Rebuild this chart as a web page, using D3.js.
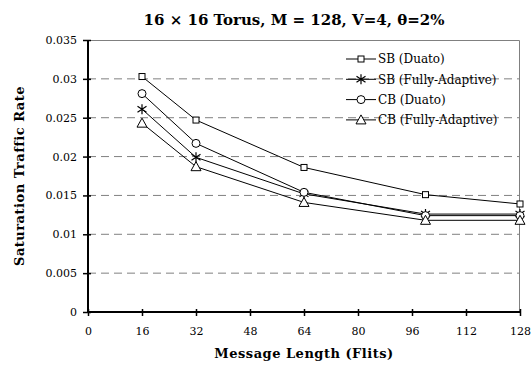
<!DOCTYPE html>
<html>
<head>
<meta charset="utf-8">
<script src="https://cdn.jsdelivr.net/npm/d3@7"></script>
<style>
  body { margin: 0; background: #fff; }
  svg text { font-family: "DejaVu Serif", serif; fill: #000; }
  .grid line { stroke: #808080; stroke-dasharray: 8,5; }
</style>
</head>
<body>
<div id="chart"></div>
<script>
// data
const lengths = [16, 32, 64, 100, 128];
const sbDuato = [0.0303, 0.0247, 0.0186, 0.0151, 0.0139];
const sbFully = [0.0261, 0.0199, 0.0152, 0.0126, 0.0126];
const cbDuato = [0.0281, 0.0217, 0.0154, 0.0124, 0.0124];
const cbFully = [0.0243, 0.0187, 0.0141, 0.0118, 0.0118];
const seriesNames = ['SB (Duato)', 'SB (Fully-Adaptive)', 'CB (Duato)', 'CB (Fully-Adaptive)'];
const xTicks = [0, 16, 32, 48, 64, 80, 96, 112, 128];
const yTicks = [0, 0.005, 0.01, 0.015, 0.02, 0.025, 0.03, 0.035];

const series = [
  {name: seriesNames[0], values: sbDuato, marker: 'square'},
  {name: seriesNames[1], values: sbFully, marker: 'star'},
  {name: seriesNames[2], values: cbDuato, marker: 'circle'},
  {name: seriesNames[3], values: cbFully, marker: 'triangle'}
];

const width = 532, height = 365;
const margin = {top: 40, right: 12, bottom: 53, left: 88};
const w = width - margin.left - margin.right;
const h = height - margin.top - margin.bottom;

const svg = d3.select('#chart').append('svg')
    .attr('width', width)
    .attr('height', height);

const chart = svg.append('g')
    .attr('transform', `translate(${margin.left},${margin.top})`);

const x = d3.scaleLinear().domain([0, 128]).range([0, w]);
const y = d3.scaleLinear().domain([0, 0.035]).range([h, 0]);

// dashed grid
chart.append('g')
    .attr('class', 'grid')
  .selectAll('line')
  .data(yTicks.filter(d => d > 0 && d < 0.035))
  .join('line')
    .attr('x1', 0)
    .attr('x2', w)
    .attr('y1', d => y(d))
    .attr('y2', d => y(d));

// top and right frame
chart.append('path')
    .attr('d', `M0,0.5H${w - 0.5}V${h}`)
    .attr('fill', 'none')
    .attr('stroke', '#808080');

// axes
const xAxis = d3.axisBottom(x).tickValues(xTicks).tickSize(4).tickPadding(11).tickFormat(d3.format('d'));
const yAxis = d3.axisLeft(y).tickValues(yTicks).tickSize(5).tickPadding(6).tickFormat(d => d === 0 ? '0' : d3.format('')(d));

const xAxisG = chart.append('g')
    .attr('transform', `translate(0,${h})`)
    .call(xAxis);
const yAxisG = chart.append('g').call(yAxis);

[xAxisG, yAxisG].forEach(g => {
  g.select('.domain').remove();
  g.selectAll('.tick line').attr('stroke-width', 1.5);
  g.selectAll('text').attr('font-size', 11).attr('font-family', '"DejaVu Serif", serif');
});
chart.append('path')
    .attr('d', `M0,0V${h}H${w}`)
    .attr('fill', 'none')
    .attr('stroke', '#000')
    .attr('stroke-width', 2);
// ticks cross the axis a little
xAxisG.selectAll('.tick line').attr('y1', -3);
yAxisG.selectAll('.tick line').attr('x1', 3);

// lines
const line = d3.line()
    .x((d, i) => x(lengths[i]))
    .y(d => y(d));

chart.selectAll('.series')
  .data(series)
  .join('path')
    .attr('class', 'series')
    .attr('d', d => line(d.values))
    .attr('fill', 'none')
    .attr('stroke', '#000')
    .attr('stroke-width', 1);

function drawMarker(g, type) {
  if (type === 'square') {
    g.append('rect').attr('x', -3).attr('y', -3).attr('width', 6).attr('height', 6)
      .attr('fill', '#fff').attr('stroke', '#000');
  } else if (type === 'circle') {
    g.append('circle').attr('r', 4).attr('fill', '#fff').attr('stroke', '#000');
  } else if (type === 'triangle') {
    g.append('path').attr('d', 'M0,-5L5,4H-5Z').attr('fill', '#fff').attr('stroke', '#000');
  } else if (type === 'star') {
    g.append('path').attr('d', 'M0,-5V5M-4.5,-3L4.5,3M-4.5,3L4.5,-3')
      .attr('fill', 'none').attr('stroke', '#000').attr('stroke-width', 1.2);
  }
}

series.forEach(s => {
  chart.selectAll(null)
    .data(s.values)
    .join('g')
      .attr('transform', (d, i) => `translate(${x(lengths[i])},${y(d)})`)
      .each(function() { drawMarker(d3.select(this), s.marker); });
});

// legend
const legend = svg.append('g')
    .attr('transform', 'translate(346,59)');
series.forEach((s, i) => {
  const row = legend.append('g').attr('transform', `translate(0,${i * 20.3})`);
  row.append('line').attr('x1', 0).attr('x2', 30).attr('stroke', '#000');
  drawMarker(row.append('g').attr('transform', 'translate(15,0)'), s.marker);
  row.append('text')
      .attr('x', 32)
      .attr('dy', '0.35em')
      .attr('font-size', 12)
      .text(s.name);
});

// titles
svg.append('text')
    .attr('x', 294)
    .attr('y', 25)
    .attr('text-anchor', 'middle')
    .attr('font-size', 15)
    .attr('font-weight', 'bold')
    .text('16 × 16 Torus, M = 128, V=4, θ=2%');

svg.append('text')
    .attr('x', margin.left + w / 2)
    .attr('y', 358)
    .attr('text-anchor', 'middle')
    .attr('font-size', 13)
    .attr('font-weight', 'bold')
    .attr('letter-spacing', 0.5)
    .text('Message Length (Flits)');

svg.append('text')
    .attr('transform', `translate(24,${margin.top + h / 2}) rotate(-90)`)
    .attr('text-anchor', 'middle')
    .attr('font-size', 13)
    .attr('font-weight', 'bold')
    .attr('letter-spacing', 0.5)
    .text('Saturation Traffic Rate');
</script>
</body>
</html>
